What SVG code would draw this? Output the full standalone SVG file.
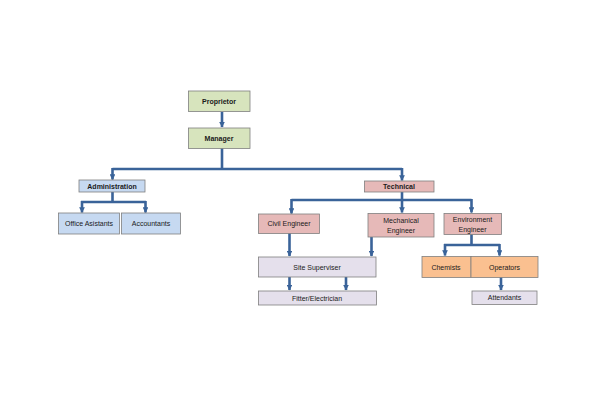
<svg xmlns="http://www.w3.org/2000/svg" width="600" height="400" viewBox="0 0 600 400">
<style>
.b{stroke:#7f7f7f;stroke-width:0.8}
.g{fill:#d7e4bd}.p{fill:#e6b9b8}.bl{fill:#c6d9f1}.l{fill:#e5e0ec}.o{fill:#fac090}
text{font-family:"Liberation Sans",Arial,sans-serif;font-size:7px;fill:#1a1a1a;text-anchor:middle;dominant-baseline:central}
.bd{font-weight:bold}
.c{fill:none;stroke:#3a6399;stroke-width:2.6}
</style>
<defs>
<marker id="a" viewBox="0 0 10 10" refX="9" refY="5" markerWidth="2.2" markerHeight="2.2" orient="auto" markerUnits="strokeWidth">
<path d="M0,0 L10,5 L0,10 z" fill="#3a6399"/>
</marker>
</defs>
<rect width="600" height="400" fill="#fff"/>
<g id="connectors">
<path class="c" d="M222,112 V127" marker-end="url(#a)"/>
<path class="c" d="M222,148 V169 M112.5,169 H402"/>
<path class="c" d="M112.5,168 V179.5" marker-end="url(#a)"/>
<path class="c" d="M402,168 V180.5" marker-end="url(#a)"/>
<path class="c" d="M112.5,192 V202 M81,202 H146"/>
<path class="c" d="M82,201 V212.5" marker-end="url(#a)"/>
<path class="c" d="M145.5,201 V212.5" marker-end="url(#a)"/>
<path class="c" d="M402,192 V200 M291.5,200 H471.5"/>
<path class="c" d="M291.5,199 V213.5" marker-end="url(#a)"/>
<path class="c" d="M402,199 V212.5" marker-end="url(#a)"/>
<path class="c" d="M471.5,199 V212.5" marker-end="url(#a)"/>
<path class="c" d="M289.5,233 V256" marker-end="url(#a)"/>
<path class="c" d="M371.5,237 V256" marker-end="url(#a)"/>
<path class="c" d="M289.5,277 V290" marker-end="url(#a)"/>
<path class="c" d="M346,277 V290" marker-end="url(#a)"/>
<path class="c" d="M471.5,234 V245 M444,245 H500"/>
<path class="c" d="M445,244 V255.5" marker-end="url(#a)"/>
<path class="c" d="M499.5,244 V255.5" marker-end="url(#a)"/>
<path class="c" d="M501,277 V290" marker-end="url(#a)"/>
</g>
<g id="proprietor"><rect class="b g" x="188.5" y="91" width="61.5" height="20.5"/><text class="bd" x="219" y="101.5">Proprietor</text></g>
<g id="manager"><rect class="b g" x="188.5" y="128" width="61.5" height="20.5"/><text class="bd" x="219" y="138.5">Manager</text></g>
<g id="administration"><rect class="b bl" x="79" y="180" width="66" height="12"/><text class="bd" x="112" y="186">Administration</text></g>
<g id="office-asistants"><rect class="b bl" x="58.5" y="213" width="61" height="21"/><text x="89" y="223.5">Office Asistants</text></g>
<g id="accountants"><rect class="b bl" x="121.5" y="213" width="59" height="21"/><text x="151" y="223.5">Accountants</text></g>
<g id="technical"><rect class="b p" x="364.5" y="181" width="69.5" height="11"/><text class="bd" x="399" y="186.5">Technical</text></g>
<g id="civil-engineer"><rect class="b p" x="258.5" y="214" width="61" height="19.5"/><text x="289" y="223.8">Civil Engineer</text></g>
<g id="mechanical-engineer"><rect class="b p" x="368" y="213.5" width="66" height="23.5"/><text x="401" y="220.5">Mechanical</text><text x="401" y="230">Engineer</text></g>
<g id="environment-engineer"><rect class="b p" x="444" y="213.5" width="57.5" height="21"/><text x="472.5" y="219.5">Environment</text><text x="472.5" y="229">Engineer</text></g>
<g id="site-superviser"><rect class="b l" x="258.5" y="257" width="117.5" height="20"/><text x="317" y="267">Site Superviser</text></g>
<g id="fitter-electrician"><rect class="b l" x="258.5" y="291" width="118" height="14"/><text x="317" y="298">Fitter/Electrician</text></g>
<g id="chemists"><rect class="b o" x="422" y="256.5" width="49" height="21"/><text x="446" y="267">Chemists</text></g>
<g id="operators"><rect class="b o" x="471" y="256.5" width="67" height="21"/><text x="504.5" y="267">Operators</text></g>
<g id="attendants"><rect class="b l" x="472" y="291" width="65" height="13.5"/><text x="504.5" y="297.8">Attendants</text></g>
</svg>
